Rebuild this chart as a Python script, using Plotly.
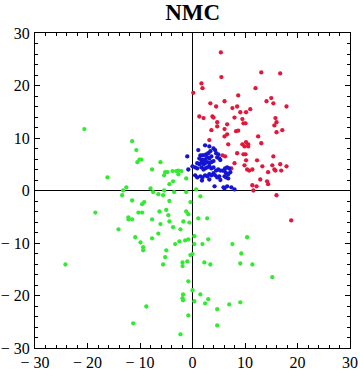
import plotly.graph_objects as go

red_x = [5.4, 13.1, 16.7, 5.5, 1.7, 1.9, 0.15, 8.7, 12.0, 6.1, 3.4, 4.5, 14.1, 15.0, 15.4, 17.9,
         8.5, 7.6, 9.1, 10.2, 11.0, 1.3, 2.1, 3.8, 4.0, 8.0, 9.5, 4.7, 4.7, 6.6, 9.7, 10.1,
         15.8, 16.0, 15.6, 3.6, 6.1, 8.3, 8.7, 16.0, 17.1, 6.1, 6.6, 3.2, 6.8, 10.2, 12.5,
         9.5, 9.9, 10.6, 10.6, 13.1, 5.7, 6.2, 8.5, 9.7, 10.1, 10.2, 12.3, 15.4, 8.0, 9.9,
         7.4, 10.4, 10.8, 11.4, 13.3, 15.2, 15.6, 15.8, 16.7, 16.9, 17.9, 14.4, 12.9, 14.2,
         14.4, 11.4, 12.2, 11.6, 16.0, 18.8]
red_y = [26.3, 22.5, 22.3, 21.6, 20.4, 19.5, 18.6, 18.1, 19.5, 17.0, 16.6, 16.0, 17.0, 17.6, 16.6, 16.0,
         16.0, 15.7, 14.9, 14.9, 15.5, 14.1, 13.8, 14.1, 13.9, 13.9, 13.6, 13.0, 12.2, 12.6, 12.8, 12.8,
         13.8, 13.0, 12.4, 11.5, 11.7, 11.3, 11.4, 11.1, 11.5, 10.3, 10.7, 9.6, 8.8, 9.2, 10.3,
         8.8, 8.4, 8.8, 8.4, 9.0, 6.7, 6.5, 7.1, 6.9, 6.9, 5.75, 5.75, 6.5, 5.2, 4.8,
         4.2, 4.0, 3.8, 4.0, 4.6, 4.8, 4.0, 3.8, 5.0, 3.8, 4.6, 3.5, 2.1, 1.75,
         1.2, 1.0, 0.8, 0.0, -0.9, -5.7]

blue_x = [2.4, 3.2, 1.1, 4.0, 4.3, 1.5, 1.9, 2.2, 2.6, 3.0, 3.4, 4.5, 4.9, 4.7, 5.1, 5.3,
          1.3, 1.7, 2.1, 2.4, 2.8, 3.2, 3.6, -1.0, 0.9, 1.3, 1.7, 2.1, 2.4, 2.8, 3.2, 3.6,
          4.0, 0.5, 0.9, 1.7, 2.1, 2.4, 2.8, 3.2, 3.6, 4.0, -0.8, 0.0, 4.5, 4.9, 5.3, 5.7,
          6.1, 6.2, 6.6, 7.0, 6.4, 6.8, 7.2, 0.5, 0.9, 1.5, 1.9, 2.4, 2.8, 3.2, 3.6, 4.0,
          4.3, 4.7, 5.1, 6.1, 6.4, 6.8, 3.2, 4.2, 5.9, 6.6, 7.4, 8.0, 1.8, 5.3, 6.1]
blue_y = [8.6, 8.4, 7.7, 8.0, 7.7, 6.7, 6.7, 6.7, 6.9, 7.1, 7.5, 7.1, 6.9, 6.3, 6.1, 5.8,
          6.1, 5.9, 5.8, 5.9, 6.3, 6.1, 6.5, 6.5, 5.2, 5.0, 5.4, 5.0, 5.2, 5.4, 5.2, 5.4,
          5.6, 4.4, 4.2, 4.4, 4.0, 4.2, 4.4, 4.6, 4.2, 4.4, 4.0, 4.6, 3.8, 4.0, 3.8, 3.8,
          3.7, 4.2, 4.4, 4.2, 3.3, 3.1, 3.5, 2.9, 2.5, 2.7, 2.5, 2.9, 2.7, 3.1, 2.9, 3.3,
          2.9, 2.5, 2.7, 2.7, 2.5, 2.3, 2.1, 0.8, 0.6, 0.8, 0.6, 0.2, 1.9, 2.0, 0.4]

green_x = [-20.6, -11.5, -10.7, -10.5, -10.1, -9.75, -6.1, -16.2, -7.7, -5.4, -5.2, -4.8, -3.8,
           -3.1, -2.7, -2.1, -2.7, -3.7, -4.4, -1.2, -12.6, -13.2, -8.0, -5.4, -7.5, -3.5, -1.2,
           -6.5, -5.6, -13.4, -11.5, -4.4, -9.2, -9.6, -0.4, -5.0, 0.7, 1.5,
           -18.5, -24.2, -14.1, -12.2, -12.2, -11.5, -10.3, -9.6, -10.9, -9.9, -9.4, -9.4,
           -7.7, -7.7, -6.3, -6.1, -6.5, -4.6, -4.4, -3.7, -5.0, -5.2, -5.6, -3.3, -2.5, -2.3,
           -1.75, -1.2, -0.8, -0.6, -1.4, -0.8, -0.4, 0.0, -1.9, -1.9, -1.0, -0.8, -1.8, -1.9,
           -1.8, -0.8, -2.3, -8.8, -11.3,
           0.0, 0.35, 0.35, 0.35, 1.1, 2.8, 1.9, 3.0, 7.6, 10.4, 9.3, 9.1, 11.4, 2.25, 3.4,
           15.2, 1.5, 3.0, 2.4, 4.7, 7.0, 9.1, 4.7]
green_y = [11.7, 9.4, 7.7, 5.4, 5.9, 5.9, 5.4, 2.5, 4.0, 2.9, 3.5, 3.5, 3.7,
           3.7, 3.8, 3.7, 3.1, 1.75, 1.2, 2.3, 0.6, 0.0, 0.4, 0.0, -0.3, -0.3, -0.3,
           -0.7, -0.9, -0.9, -1.9, -2.0, -2.2, -2.6, -2.2, -3.7, 0.2, -1.1,
           -4.2, -14.1, -7.4, -5.1, -5.5, -5.5, -4.2, -4.2, -8.9, -9.9, -10.8, -11.4,
           -5.5, -9.1, -4.0, -6.4, -8.2, -4.7, -5.9, -7.0, -11.4, -12.7, -14.1, -10.2, -9.7, -7.4,
           -5.9, -4.0, -4.5, -6.1, -9.5, -9.3, -12.3, -12.1, -13.7, -14.4, -13.5, -17.3, -19.8, -20.5,
           -20.9, -23.8, -27.4, -22.1, -25.3,
           -19.0, -21.1, -8.7, -10.2, -5.3, -5.3, -10.2, -9.3, -10.2, -8.9, -12.0, -13.9, -14.1, -13.7, -14.1,
           -16.5, -19.8, -20.7, -21.5, -22.6, -21.7, -21.3, -25.7]

tick_vals = [-30, -20, -10, 0, 10, 20, 30]
tick_text = ["\u2212 30", "\u2212 20", "\u2212 10", "0", "10", "20", "30"]

SERIF = "Liberation Serif, Times New Roman, serif"

fig = go.Figure()
for xs, ys, col in [(red_x, red_y, "#E2173A"), (blue_x, blue_y, "#1414D4"), (green_x, green_y, "#33EA33")]:
    fig.add_trace(go.Scatter(
        x=xs, y=ys, mode="markers",
        marker=dict(size=4.3, color=col, line=dict(width=0)),
        showlegend=False,
    ))

axis = dict(
    range=[-30, 30],
    tickvals=tick_vals, ticktext=tick_text,
    ticks="inside", ticklen=5, tickwidth=1, tickcolor="black",
    minor=dict(dtick=2, ticks="inside", ticklen=3, tickwidth=1, tickcolor="black"),
    showline=True, linecolor="black", linewidth=1, mirror="allticks",
    showgrid=False, automargin=False,
    zeroline=True, zerolinecolor="black", zerolinewidth=1,
    tickfont=dict(family=SERIF, size=16, color="black"),
)

fig.update_layout(
    width=360, height=371,
    margin=dict(l=35, r=10, t=33, b=23),
    plot_bgcolor="white", paper_bgcolor="white",
    xaxis=dict(axis, ticklabelstandoff=0),
    yaxis=dict(axis, ticklabelstandoff=1),
    title=dict(text="<b>NMC</b>", x=0.535, xanchor="center", y=0.968, yanchor="middle",
               font=dict(family=SERIF, size=23, color="black"), automargin=False),
)

# page body has an 8px default margin; drop it so the figure sits at the corner
fig.write_html("out.html", config={"displayModeBar": False},
               post_script="document.body.style.margin='0px';")
